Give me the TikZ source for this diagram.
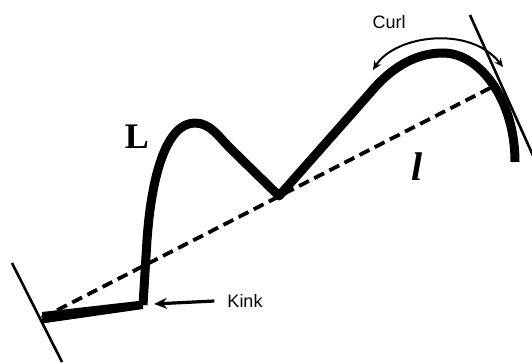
\documentclass[tikz,border=0pt]{standalone}
\usepackage{fontspec}
\setmainfont{Liberation Serif}
\setsansfont{Liberation Sans}
\usetikzlibrary{arrows.meta}
\begin{document}
\begin{tikzpicture}[x=1pt,y=-1pt,
  thinline/.style={line width=2.6pt},
  curveline/.style={line width=9pt, line join=round, line cap=butt},
  dashline/.style={line width=3.8pt, dash pattern=on 11pt off 6pt},
  labeltext/.style={font=\sffamily\fontsize{18}{18}\selectfont, inner sep=0pt},
  tip/.style={-{Stealth[length=13pt,width=11pt]}}]
\useasboundingbox (0,0) rectangle (532,363);
% key points
\coordinate (start) at (42,318);
\coordinate (kinkpt) at (143,305);
\coordinate (tang) at (494,86);
% left and right tangent lines
\coordinate (lt1) at (12,263);
\coordinate (lt2) at (62,362);
\coordinate (rt1) at (470,15);
\coordinate (rt2) at (535,160);
\draw[thinline] (lt1) -- (lt2);
\draw[thinline] (rt1) -- (rt2);
% dashed chord
\draw[dashline] (start) -- (tang);
% tapered first segment
\fill (42,312) -- (143,300.5) -- (143,309) -- (42,323.5) -- cycle;
% main curve
\draw[curveline] (kinkpt) -- (147,240)
  .. controls (152,170) and (168,123) .. (195,123)
  .. controls (210,123) and (218,136) .. (230,148)
  -- (279,196) -- (370,93)
  .. controls (395,63) and (420,53) .. (443,53)
  .. controls (480,53) and (515,100) .. (515,162);
% curl arrow
\coordinate (c1) at (373,70);
\coordinate (c2) at (503,67);
\draw[line width=2pt, {Stealth[length=9pt,width=8pt]}-{Stealth[length=9pt,width=8pt]}]
  (c1) .. controls (395,35) and (470,25) .. (c2);
% labels
\node[labeltext] (curl) at (389,22) {Curl};
\node[labeltext] (kink) at (245,301) {Kink};
\coordinate (kinktip) at (154,304);
\draw[line width=3.2pt, tip] (kink.west) ++(-13,0) -- (kinktip);
\node[inner sep=0pt, font=\fontsize{36}{36}\selectfont\bfseries] (L) at (137,137) {L};
\node[inner sep=0pt, font=\fontsize{40}{40}\selectfont\bfseries\itshape] (l) at (417,167) {l};
\end{tikzpicture}
\end{document}
